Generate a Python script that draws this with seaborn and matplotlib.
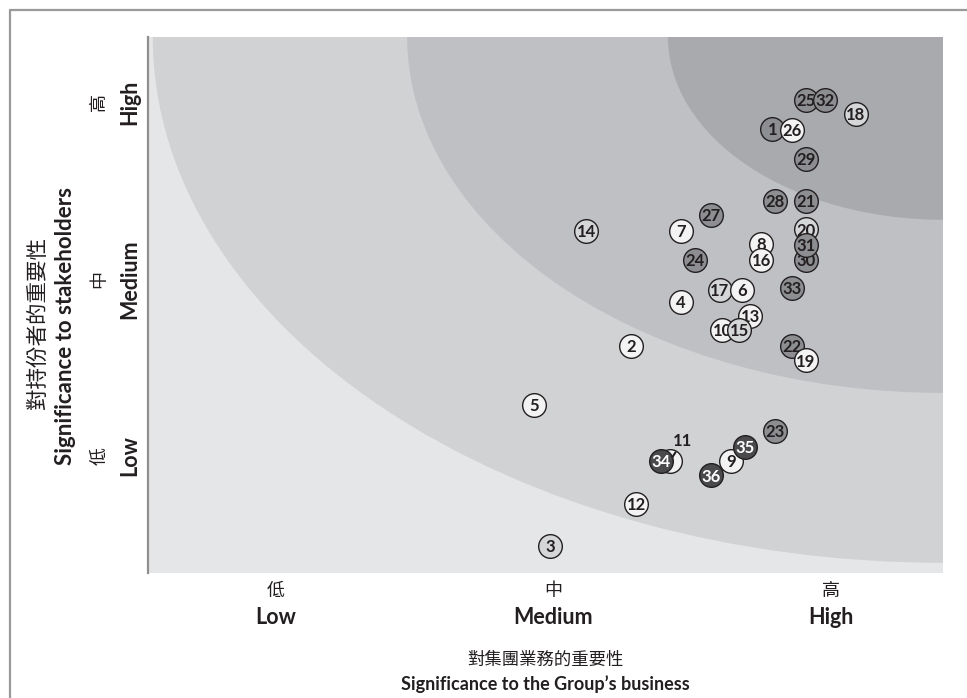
import matplotlib
matplotlib.use("Agg")
import matplotlib.pyplot as plt
import seaborn as sns
import pandas as pd
from matplotlib.patches import Ellipse
from matplotlib.lines import Line2D

# Materiality issues: id, significance to business (x), significance to stakeholders (y)
issue_ids = list(range(1, 37))
business_score = [2.79, 2.28, 1.99, 2.46, 1.93, 2.68, 2.46, 2.75, 2.64, 2.61,
                  2.42, 2.30, 2.71, 2.12, 2.67, 2.75, 2.60, 3.09, 2.91, 2.91,
                  2.91, 2.86, 2.80, 2.51, 2.91, 2.86, 2.57, 2.80, 2.91, 2.91,
                  2.91, 2.98, 2.86, 2.39, 2.69, 2.57]
stakeholder_score = [2.85, 1.62, 0.49, 1.87, 1.29, 1.94, 2.27, 2.20, 0.97, 1.71,
                     0.97, 0.73, 1.79, 2.27, 1.71, 2.11, 1.94, 2.93, 1.54, 2.28,
                     2.44, 1.62, 1.14, 2.11, 3.01, 2.84, 2.36, 2.44, 2.68, 2.11,
                     2.19, 3.01, 1.95, 0.97, 1.05, 0.89]
issue_group = ["mid", "white", "light", "white", "white", "white", "white", "white", "white", "white",
               "white", "white", "white", "light", "light", "white", "light", "light", "white", "light",
               "mid", "mid", "mid", "mid", "mid", "white", "mid", "mid", "mid", "mid",
               "mid", "mid", "mid", "dark", "dark", "dark"]

# stacking order for overlapping circles (later = on top)
draw_order = [1, 2, 3, 4, 5, 7, 8, 9, 10, 11, 12, 13, 14, 15, 16, 17, 6, 18, 20, 21,
              22, 19, 23, 24, 25, 26, 27, 28, 29, 30, 31, 32, 33, 34, 35, 36]

level_pos = [1, 2, 3]
level_en = ["Low", "Medium", "High"]
level_zh = ["低", "中", "高"]

x_title_zh = "對集團業務的重要性"
x_title_en = "Significance to the Group\u2019s business"
y_title_zh = "對持份者的重要性"
y_title_en = "Significance to stakeholders"

fill_palette = {"white": "#f3f3f4", "light": "#d5d6d8", "mid": "#8d8e91", "dark": "#4a4a4d"}
text_colors = {"white": "#231f20", "light": "#231f20", "mid": "#231f20", "dark": "#ffffff"}
band_colors = ["#e5e6e8", "#d1d2d4", "#bfc0c3", "#a9aaad"]
band_radii = [(0.994, 0.981), (0.674, 0.664), (0.346, 0.341)]

df = pd.DataFrame({"id": issue_ids, "business": business_score,
                   "stakeholder": stakeholder_score, "group": issue_group})

sns.set_theme(style="white")
plt.rcParams["font.family"] = ["Lato", "Noto Sans CJK TC", "DejaVu Sans"]
FONT = ["Lato", "Noto Sans CJK TC", "DejaVu Sans"]
CJK = ["Noto Sans CJK TC", "DejaVu Sans"]
INK = "#231f20"

W, H = 967, 698
fig = plt.figure(figsize=(W / 100, H / 100), dpi=100)
fig.patch.set_facecolor("white")
ax = fig.add_axes([148 / W, 125 / H, 795 / W, 536 / H])
ax.set_xlim(0.5405, 3.405)
ax.set_ylim(0.339, 3.367)

# concentric background bands around the top-right corner
ax.set_facecolor(band_colors[0])
for (rx, ry), col in zip(band_radii, band_colors[1:]):
    ax.add_patch(Ellipse((1, 1), 2 * rx, 2 * ry, transform=ax.transAxes,
                         facecolor=col, edgecolor="none", zorder=0))

# numbered issue circles
for k, pid in enumerate(draw_order):
    row = df[df["id"] == pid]
    grp = row["group"].iloc[0]
    x, y = row["business"].iloc[0], row["stakeholder"].iloc[0]
    sns.scatterplot(data=row, x="business", y="stakeholder", hue="group",
                    palette=fill_palette, hue_order=list(fill_palette), s=290,
                    edgecolor=INK, linewidth=1.0, legend=False, ax=ax,
                    zorder=10 + 2 * k)
    if pid == 11:
        # label sits outside its circle with a short leader line
        ax.annotate("11", xy=(x, y), xytext=(9, 11), textcoords="offset points",
                    ha="center", va="baseline", fontsize=12, fontweight="bold", color=INK,
                    family=FONT, zorder=200,
                    arrowprops=dict(arrowstyle="-", color=INK, lw=1.5,
                                    relpos=(0.35, 0.15), shrinkA=0, shrinkB=3.5))
    else:
        ax.annotate(str(pid), xy=(x, y), xytext=(0, -4.4), textcoords="offset points",
                    ha="center", va="baseline", fontsize=12, fontweight="bold",
                    color=text_colors[grp], family=FONT, zorder=10 + 2 * k + 1)

# axes styling
for side in ["top", "right", "bottom"]:
    ax.spines[side].set_visible(False)
ax.spines["left"].set_color("#8f8f8f")
ax.spines["left"].set_linewidth(1.6)
ax.set_xticks([])
ax.set_yticks([])
ax.set_xlabel("")
ax.set_ylabel("")

# level labels on both axes
for pos, en, zh in zip(level_pos, level_en, level_zh):
    ax.annotate(zh, xy=(pos, 0), xycoords=("data", "axes fraction"),
                xytext=(0, -13), textcoords="offset points", ha="center", va="center",
                fontsize=13, color=INK, family=CJK)
    ax.annotate(en, xy=(pos, 0), xycoords=("data", "axes fraction"),
                xytext=(0, -32), textcoords="offset points", ha="center", va="center",
                fontsize=15.5, fontweight="bold", color=INK, family=FONT)
    ax.annotate(zh, xy=(0, pos), xycoords=("axes fraction", "data"),
                xytext=(-35, 0), textcoords="offset points", ha="center", va="center",
                rotation=90, fontsize=13, color=INK, family=CJK)
    ax.annotate(en, xy=(0, pos), xycoords=("axes fraction", "data"),
                xytext=(-13, 0), textcoords="offset points", ha="center", va="center",
                rotation=90, fontsize=15.5, fontweight="bold", color=INK, family=FONT)

# axis titles
fig.text(545 / W, 1 - 660 / H, x_title_zh, ha="center", va="center",
         fontsize=12.5, color=INK, family=CJK)
fig.text(545 / W, 1 - 684 / H, x_title_en, ha="center", va="center",
         fontsize=13, fontweight="bold", color=INK, family=FONT)
fig.text(38 / W, 1 - 323 / H, y_title_zh, ha="center", va="center", rotation=90,
         fontsize=15.5, color=INK, family=CJK)
fig.text(66 / W, 1 - 326 / H, y_title_en, ha="center", va="center", rotation=90,
         fontsize=16, fontweight="bold", color=INK, family=FONT)

# outer frame lines
frame_kw = dict(color="#9a9a9a", linewidth=1.6, transform=fig.transFigure)
fig.add_artist(Line2D([10 / W, 1.0], [1 - 10 / H, 1 - 10 / H], **frame_kw))
fig.add_artist(Line2D([10 / W, 10 / W], [0.0, 1 - 10 / H], **frame_kw))

fig.savefig("out.png", dpi=100)
